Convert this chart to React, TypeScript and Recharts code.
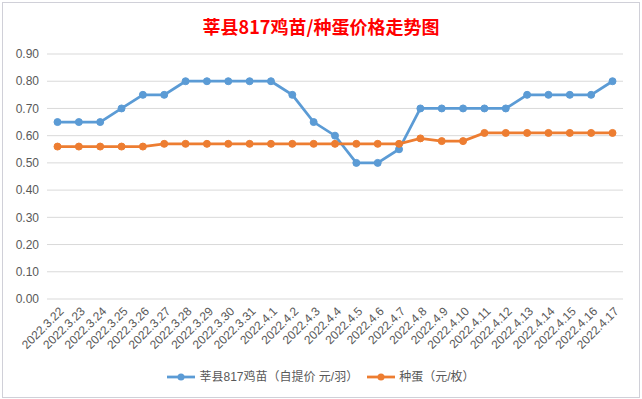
import React from "react";
import { LineChart, Line, XAxis, YAxis, CartesianGrid } from "recharts";

const dates = [
  "2022.3.22", "2022.3.23", "2022.3.24", "2022.3.25", "2022.3.26", "2022.3.27", "2022.3.28",
  "2022.3.29", "2022.3.30", "2022.3.31", "2022.4.1", "2022.4.2", "2022.4.3", "2022.4.4",
  "2022.4.5", "2022.4.6", "2022.4.7", "2022.4.8", "2022.4.9", "2022.4.10", "2022.4.11",
  "2022.4.12", "2022.4.13", "2022.4.14", "2022.4.15", "2022.4.16", "2022.4.17",
];
const chickPrices = [
  0.65, 0.65, 0.65, 0.7, 0.75, 0.75, 0.8, 0.8, 0.8, 0.8, 0.8, 0.75, 0.65, 0.6,
  0.5, 0.5, 0.55, 0.7, 0.7, 0.7, 0.7, 0.7, 0.75, 0.75, 0.75, 0.75, 0.8,
];
const eggPrices = [
  0.56, 0.56, 0.56, 0.56, 0.56, 0.57, 0.57, 0.57, 0.57, 0.57, 0.57, 0.57, 0.57, 0.57,
  0.57, 0.57, 0.57, 0.59, 0.58, 0.58, 0.61, 0.61, 0.61, 0.61, 0.61, 0.61, 0.61,
];
const yTicks = [0, 0.1, 0.2, 0.3, 0.4, 0.5, 0.6, 0.7, 0.8, 0.9];
const seriesNames = ["莘县817鸡苗（自提价 元/羽）", "种蛋（元/枚）"];
const title = "莘县817鸡苗/种蛋价格走势图";

const data = dates.map((d, i) => ({ date: d, chick: chickPrices[i], egg: eggPrices[i] }));

const BLUE = "#5B9BD5";
const ORANGE = "#ED7D31";
const TEXT = "#595959";
const FONT = '"Liberation Sans", "Noto Sans CJK SC", sans-serif';

const XTick = (props: any) => {
  const { x, y, payload } = props;
  return (
    <g transform={`translate(${x + 4},${y + 2})`}>
      <text
        x={0}
        y={0}
        dy="0.35em"
        textAnchor="end"
        transform="rotate(-45)"
        fill={TEXT}
        fontSize={12}
        fontFamily={FONT}
      >
        {payload.value}
      </text>
    </g>
  );
};

const LegendIcon = ({ color }: { color: string }) => (
  <svg width={28} height={10} style={{ display: "block" }}>
    <line x1={0} y1={5} x2={28} y2={5} stroke={color} strokeWidth={2.75} />
    <circle cx={14} cy={5} r={3.5} fill={color} />
  </svg>
);

export default function App() {
  return (
    <div style={{ position: "fixed", left: 0, top: 0, width: 642, height: 399, background: "#fff" }}>
      <div
        style={{
          position: "absolute",
          left: 2,
          top: 2,
          width: 638,
          height: 396,
          boxSizing: "border-box",
          border: "1px solid #d0d0d8",
          background: "#fff",
        }}
      >
        <div
          style={{
            position: "absolute",
            left: 0,
            top: 11,
            width: 636,
            textAlign: "center",
            color: "#FF0000",
            fontWeight: "bold",
            fontSize: 18,
            lineHeight: "24px",
            fontFamily: '"Noto Sans CJK SC", sans-serif',
          }}
        >
          {title}
        </div>
        <LineChart
          width={636}
          height={394}
          data={data}
          margin={{ top: 51, right: 16, left: 0, bottom: 0 }}
        >
          <CartesianGrid vertical={false} stroke="#d9d9d9" strokeWidth={1} />
          <XAxis
            dataKey="date"
            height={98}
            interval={0}
            padding={{ left: 10.5, right: 10.5 }}
            axisLine={false}
            tickLine={false}
            tick={<XTick />}
          />
          <YAxis
            width={44}
            domain={[0, 0.9]}
            ticks={yTicks}
            axisLine={false}
            tickLine={false}
            tickFormatter={(v: number) => v.toFixed(2)}
            tick={{ fill: TEXT, fontSize: 12, fontFamily: FONT }}
          />
          <Line
            dataKey="chick"
            name={seriesNames[0]}
            stroke={BLUE}
            strokeWidth={2.75}
            dot={{ r: 3.5, fill: BLUE, stroke: BLUE, strokeWidth: 1 }}
            isAnimationActive={false}
          />
          <Line
            dataKey="egg"
            name={seriesNames[1]}
            stroke={ORANGE}
            strokeWidth={2.75}
            dot={{ r: 3.5, fill: ORANGE, stroke: ORANGE, strokeWidth: 1 }}
            isAnimationActive={false}
          />
        </LineChart>
        <div
          style={{
            position: "absolute",
            left: 0,
            top: 366,
            width: 636,
            display: "flex",
            justifyContent: "center",
            alignItems: "center",
            fontSize: 12,
            color: TEXT,
            fontFamily: FONT,
            lineHeight: "16px",
          }}
        >
          <div style={{ display: "flex", alignItems: "center", marginRight: 9 }}>
            <LegendIcon color={BLUE} />
            <span style={{ marginLeft: 4 }}>{seriesNames[0]}</span>
          </div>
          <div style={{ display: "flex", alignItems: "center" }}>
            <LegendIcon color={ORANGE} />
            <span style={{ marginLeft: 4 }}>{seriesNames[1]}</span>
          </div>
        </div>
      </div>
    </div>
  );
}
